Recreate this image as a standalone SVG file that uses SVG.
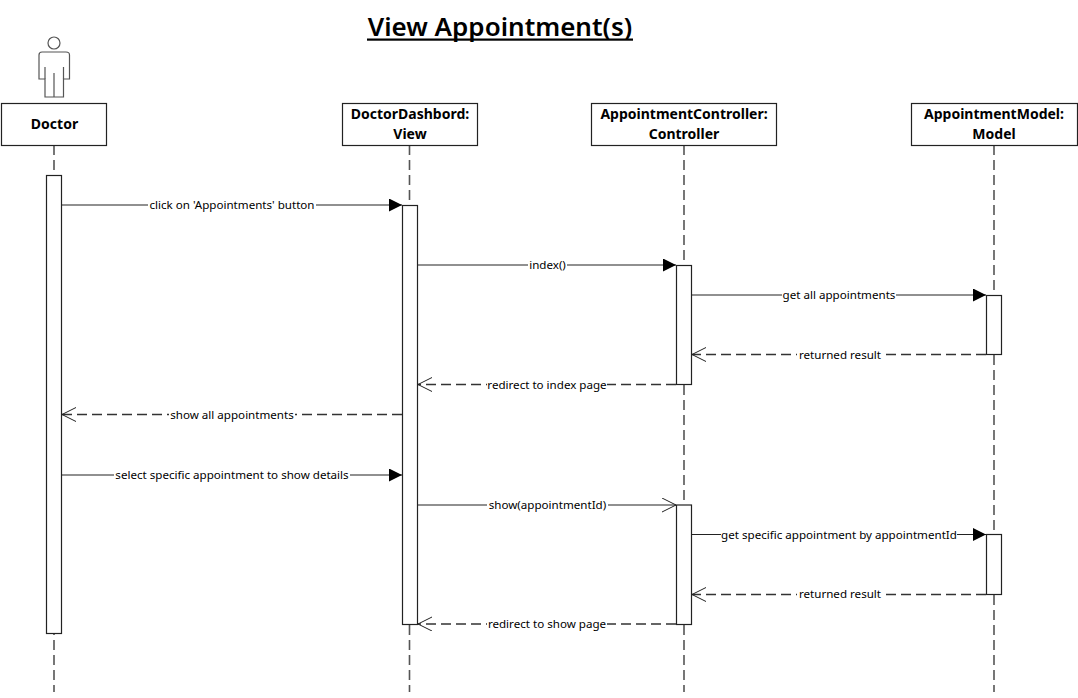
<svg xmlns="http://www.w3.org/2000/svg" width="1078" height="698" viewBox="0 0 1078 698">
<style>
text{font-family:"Noto Sans","Open Sans","DejaVu Sans",sans-serif;fill:#000}
.title{font-size:26px;font-weight:600;text-anchor:middle}
.hd{font-size:14px;font-weight:700;text-anchor:middle}
.lb{font-size:11.600px;text-anchor:middle}
.bg{fill:#fff}
.box{fill:#fff;stroke:#222;stroke-width:1.2}
.act{fill:#fff;stroke:#222;stroke-width:1.2}
.life{fill:none;stroke:#555;stroke-width:1.600;stroke-dasharray:10 5}
.sync{fill:none;stroke:#222;stroke-width:1.1;marker-end:url(#solid)}
.open{fill:none;stroke:#222;stroke-width:1.1;marker-end:url(#open)}
.ret{fill:none;stroke:#333;stroke-width:1.3;stroke-dasharray:10 5;marker-end:url(#open)}
.man{fill:#fff;stroke:#555;stroke-width:1.2}
</style>
<defs>
<marker id="solid" markerUnits="userSpaceOnUse" markerWidth="14" markerHeight="14" refX="13" refY="6.500" orient="auto"><path d="M0 0L13 6.500L0 13Z" fill="#000"/></marker>
<marker id="open" markerUnits="userSpaceOnUse" markerWidth="16" markerHeight="16" refX="14" refY="7" orient="auto"><path d="M0 0L14 7L0 14" fill="none" stroke="#222" stroke-width="1" stroke-dasharray="none"/></marker>
</defs>
<text class="title" x="500" y="36">View Appointment(s)</text>
<rect x="367" y="38.500" width="266" height="2.200" fill="#000"/>
<g id="lifelines">
<path class="life" d="M54 145V692"/>
<path class="life" d="M409.500 145V692"/>
<path class="life" d="M684 145V692"/>
<path class="life" d="M994 145V692"/>
</g>
<g id="actor-doctor">
<circle class="man" cx="54" cy="43" r="6"/>
<path class="man" d="M42 52H66Q69.500 52 69.500 55V79H63.500V97H45V79H39V55Q39 52 42 52Z"/>
<path class="man" fill="none" d="M45 67V79M63.500 67V79M54 73V97"/>
<rect class="box" x="1.500" y="103.500" width="105" height="42"/>
<text class="hd" x="54.500" y="129">Doctor</text>
</g>
<g id="node-dashboard">
<rect class="box" x="342.500" y="103.500" width="135" height="42"/>
<text class="hd" x="410" y="119">DoctorDashbord:</text>
<text class="hd" x="410" y="139">View</text>
</g>
<g id="node-controller">
<rect class="box" x="591.500" y="103.500" width="185" height="42"/>
<text class="hd" x="684" y="119">AppointmentController:</text>
<text class="hd" x="684" y="139">Controller</text>
</g>
<g id="node-model">
<rect class="box" x="911.500" y="103.500" width="166" height="42"/>
<text class="hd" x="994" y="119">AppointmentModel:</text>
<text class="hd" x="994" y="139">Model</text>
</g>
<g id="activations">
<rect class="act" x="46.500" y="175.500" width="15" height="458"/>
<rect class="act" x="402.500" y="205.500" width="15" height="419"/>
<rect class="act" x="676.500" y="265.500" width="15" height="119"/>
<rect class="act" x="676.500" y="505" width="15" height="119.500"/>
<rect class="act" x="986.500" y="295.500" width="15" height="59"/>
<rect class="act" x="986.500" y="534.500" width="15" height="60"/>
</g>
<g id="connectors">
<path class="sync" d="M62 205H402"/>
<path class="sync" d="M418 265H676"/>
<path class="sync" d="M692 295H986"/>
<path class="ret" d="M986 354.500H692"/>
<path class="ret" d="M676 384.500H418"/>
<path class="ret" d="M402 414.500H62"/>
<path class="sync" d="M62 475H402"/>
<path class="open" d="M418 505H676"/>
<path class="sync" d="M692 534.500H986"/>
<path class="ret" d="M986 594.500H692"/>
<path class="ret" d="M676 624H418"/>
</g>
<g id="labels">
<rect class="bg" x="148" y="198" width="168" height="14"/><text class="lb" x="232" y="209">click on 'Appointments' button</text>
<rect class="bg" x="528" y="258" width="39" height="14"/><text class="lb" x="547.500" y="269">index()</text>
<rect class="bg" x="782" y="288" width="114" height="14"/><text class="lb" x="839" y="299">get all appointments</text>
<rect class="bg" x="797" y="348" width="86" height="14"/><text class="lb" x="840" y="359">returned result</text>
<rect class="bg" x="487" y="378" width="120" height="14"/><text class="lb" x="547" y="389">redirect to index page</text>
<rect class="bg" x="169" y="408" width="126" height="14"/><text class="lb" x="232" y="419">show all appointments</text>
<rect class="bg" x="114" y="468" width="236" height="14"/><text class="lb" x="232" y="479">select specific appointment to show details</text>
<rect class="bg" x="487" y="498" width="121" height="14"/><text class="lb" x="547.500" y="509">show(appointmentId)</text>
<rect class="bg" x="721" y="528" width="236" height="14"/><text class="lb" x="839" y="539">get specific appointment by appointmentId</text>
<rect class="bg" x="797" y="587" width="86" height="14"/><text class="lb" x="840" y="598">returned result</text>
<rect class="bg" x="487" y="617" width="120" height="14"/><text class="lb" x="547" y="628">redirect to show page</text>
</g>
</svg>
